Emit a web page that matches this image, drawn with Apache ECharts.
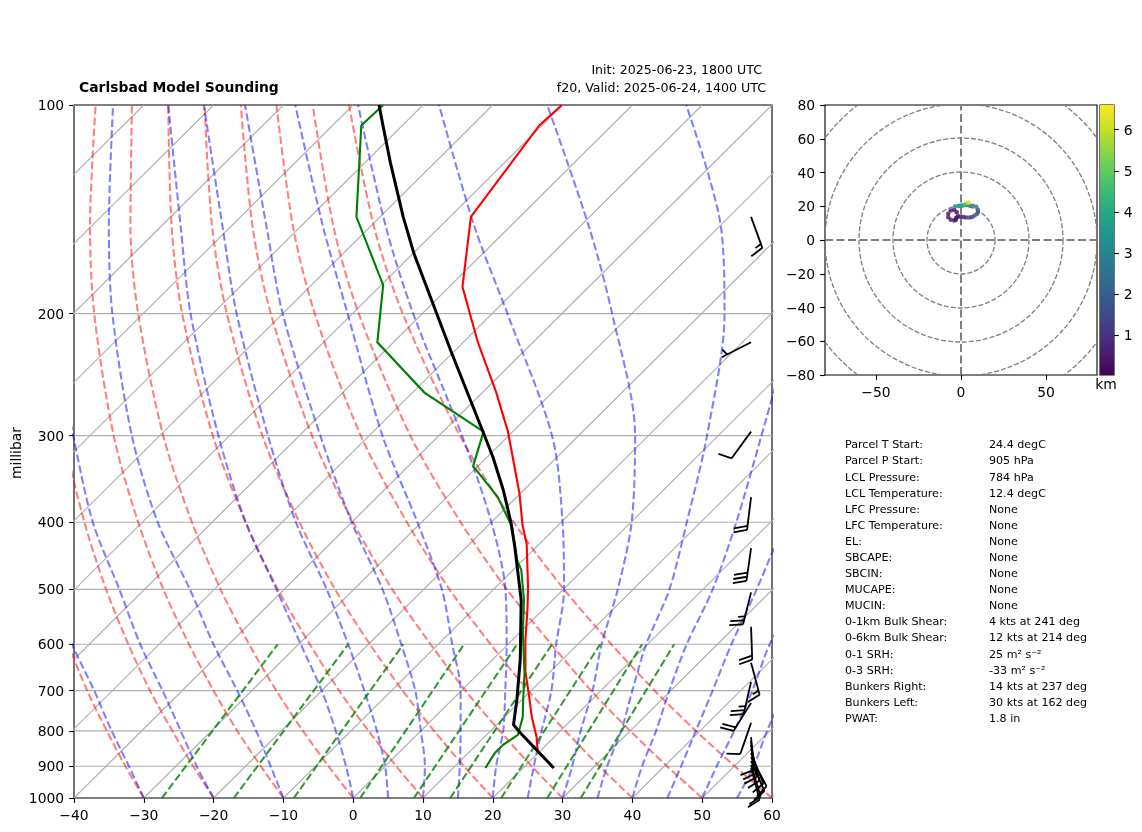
<!DOCTYPE html>
<html>
<head>
<meta charset="utf-8">
<script src="https://cdn.jsdelivr.net/npm/echarts@6/dist/echarts.min.js"></script>
<style>html,body{margin:0;padding:0;background:#fff}#c{width:1142px;height:832px}</style>
</head>
<body>
<div id="c"></div>
<script>
// ---- values ----
const pressureTicks = [100,200,300,400,500,600,700,800,900,1000];
const temperatureTicks = [-40,-30,-20,-10,0,10,20,30,40,50,60];
const isothermValues = [-140,-130,-120,-110,-100,-90,-80,-70,-60,-50,-40,-30,-20,-10,0,10,20,30,40,50,60];

const tempP = [853,817,764,710,658,592,535,496,430,404,363,296,260,220,183,145,107,100];
const tempT = [19.5,17.5,13.9,10.3,6.5,1.9,-2.2,-5.4,-11.8,-15.1,-20.2,-30.7,-38,-47.9,-58.1,-67,-70.4,-70.1];
const dewP = [905,861,838,811,764,722,660,578,518,469,454,406,368,332,296,260,220,182,145,107,100];
const dewT = [14.6,13.8,13.8,14.5,12.6,10.2,6.5,0.5,-4.1,-8.8,-10.8,-16.4,-22.7,-30.7,-34.2,-48.3,-62.3,-69.7,-83.4,-95.9,-95.7];
const parcelP = [905,803,784,722,632,518,434,400,359,322,294,228,164,145,121,107,100];
const parcelT = [24.4,14.3,12.4,9.3,4,-4.5,-13.1,-17.2,-23,-29.2,-34.7,-50.1,-69.8,-76.7,-86.4,-92.8,-96.3];

const curveLevels = [1000,900,800,700,600,500,400,300,200,150,100];
const dryAdiabats = [
 [-30,-37.2,-45,-53.6,-63,-73.7,-86,-100.8],
 [-20,-27.5,-35.6,-44.6,-54.4,-65.5,-78.3,-93.7,-113.3],
 [-10,-17.8,-26.3,-35.5,-45.7,-57.3,-70.6,-86.6,-107,-120.1,-136.9],
 [0,-8.1,-16.9,-26.5,-37.1,-49.1,-62.9,-79.5,-100.7,-114.3,-131.7],
 [10,1.6,-7.5,-17.5,-28.4,-40.9,-55.2,-72.4,-94.4,-108.4,-126.5],
 [20,11.3,1.9,-8.4,-19.8,-32.7,-47.5,-65.3,-88,-102.6,-121.3],
 [30,21,11.3,0.6,-11.1,-24.5,-39.8,-58.2,-81.7,-96.8,-116.1],
 [40,30.7,20.7,9.6,-2.5,-16.3,-32.1,-51.2,-75.4,-91,-111],
 [50,40.4,30,18.6,6.2,-8.1,-24.4,-44.1,-69.1,-85.2,-105.8],
 [60,50.1,39.4,27.7,14.8,0.1,-16.8,-37,-62.8,-79.4,-100.6]
];
const moistAdiabats = [
 [-30,-36.7,-44.3,-52.6,-62.5,-74],
 [-20,-27,-34.4,-42.8,-52.7,-63.6,-77.1,-92.4,-113.5],
 [-10,-16.4,-23.6,-32.1,-42.2,-53.5,-67.8,-84,-104.4,-117.4,-134.4],
 [0,-5.6,-12.2,-20,-29.7,-41.1,-55.2,-71.6,-93.2,-107.1,-126.5],
 [5,0,-6.3,-13.9,-22.9,-33.9,-48,-64.5,-86.6,-101.1,-121.4],
 [10,5.7,0,-6.6,-15.3,-25.9,-40,-57,-80,-94.8,-115.5],
 [15,10.7,5.7,-0.1,-8,-17.4,-30.6,-48.1,-70.7,-86.7,-108.3],
 [20,15.9,11.8,6.3,-0.2,-8.3,-20,-36.7,-61.3,-77.7,-99.3],
 [25,21.3,17.3,12.9,6.9,0.1,-9.8,-23.8,-47.8,-65,-87.7],
 [30,26.8,22.9,18.8,13.4,7.8,0.1,-11.9,-32.8,-48.6,-72.2],
 [35,31.8,28.7,24.5,19.8,15.2,8,-1.6,-16.7,-29.7,-52.3],
 [40,36.8,33.7,29.8,25.6,21.4,15.1,6.2,-6.5],
 [45,42.4,39.4,36,32,27.7,22],
 [50,47.5,44.9,41.7,37.5,34],
 [55,52.8,49.6,46.4]
];
const mixingLevels = [1000,600];
const mixingLines = [
 [-27.4,-33],[-17.1,-22.9],[-8.5,-15],[1,-6.3],[8.7,1.3],[13.9,6.3],[21.2,13.2],[27.8,19.2],[32.6,23.8]
];

const windP = [145,220,296,368,436,505,566,638,680,729,779,817,827,838,849,861,873,884,896,905];
const windSpeed = [15,5,10,20,30,25,20,15,25,20,10,10,10,10,10,10,10,10,10,10];
const windDir = [160,243,216,187,188,194,178,165,193,212,199,176,172,170,165,158,152,156,163,165];
const barbColumn = [57];

const hodoU = [-3,-2,-2.5,-4,-6,-7.5,-7.5,-6,-4,-3,-1.5,0,1.5,3,5,6.5,8,9.5,10,10,9,7,5,3.4,1,-1,-3.5,-1.5,0.5,2.5,4,4.5];
const hodoV = [12,14,16.5,18,17.5,15.5,13.5,12,11.5,13,14,14,13.6,13.4,13.4,13.6,14.5,15.5,16.6,18,19.7,20.3,20.5,20.7,20.5,20.3,20,20.2,20.5,21,22,22.3];
const hodoH = [0.05,0.1,0.15,0.2,0.25,0.3,0.35,0.4,0.45,0.5,0.55,0.65,0.8,0.95,1.1,1.3,1.5,1.7,1.9,2.1,2.3,2.5,2.7,2.9,3.1,3.3,3.5,3.8,4.1,4.6,5.5,6.5];
const hodoRings = [20,40,60,80,100];
const hodoYTicks = [-80,-60,-40,-20,0,20,40,60,80];
const hodoXTicks = [-50,0,50];
const colorbarTicks = [1,2,3,4,5,6];
const heightRange = [0.03,6.6];
const viridis = ['#440154','#482475','#414487','#355f8d','#2a788e','#21918c','#22a884','#44bf70','#7ad151','#bddf26','#fde725'];

const statNames = ['Parcel T Start:','Parcel P Start:','LCL Pressure:','LCL Temperature:','LFC Pressure:','LFC Temperature:','EL:','SBCAPE:','SBCIN:','MUCAPE:','MUCIN:','0-1km Bulk Shear:','0-6km Bulk Shear:','0-1 SRH:','0-3 SRH:','Bunkers Right:','Bunkers Left:','PWAT:'];
const statValues = ['24.4 degC','905 hPa','784 hPa','12.4 degC','None','None','None','None','None','None','None','4 kts at 241 deg','12 kts at 214 deg','25 m\u00b2 s\u207b\u00b2','-33 m\u00b2 s\u207b\u00b2','14 kts at 237 deg','30 kts at 162 deg','1.8 in'];
const chartTitle = 'Carlsbad Model Sounding';
const initText = 'Init: 2025-06-23, 1800 UTC';
const validText = 'f20, Valid: 2025-06-24, 1400 UTC';
const pressureName = 'millibar';

// ---- drawing ----
const FONT = '"DejaVu Sans"';
const skew = (t, p) => t + 100 * Math.log10(1000 / p);
const minus = v => String(v).replace('-', '\u2212');
const series = [];
function addCurve(name, ts, ps, color, width, dash, opacity, smooth, z) {
  series.push({
    name, type: 'line', xAxisIndex: 0, yAxisIndex: 0, silent: true, showSymbol: false, symbol: 'none',
    smooth: smooth ? 0.3 : false, z: z, animation: false,
    lineStyle: { color, width, type: dash ? [7.7, 3.3] : 'solid', opacity, cap: 'butt', join: 'miter' },
    data: ts.map((t, i) => [skew(t, ps[i]), ps[i]])
  });
}
isothermValues.forEach(t => addCurve('isotherm', [t, t], [1000, 100], '#b0b0b0', 1.1, false, 1, false, 2));
pressureTicks.forEach(p => {
  if (p > 100 && p < 1000) series.push({
    name: 'isobar', type: 'line', xAxisIndex: 0, yAxisIndex: 0, silent: true, showSymbol: false, z: 2,
    lineStyle: { color: '#b0b0b0', width: 1.1 }, data: [[-40, p], [60, p]]
  });
});
dryAdiabats.forEach(r => addCurve('dry', r, curveLevels, '#ff0000', 2.08, true, 0.5, true, 3));
moistAdiabats.forEach(r => addCurve('moist', r, curveLevels, '#0000ff', 2.08, true, 0.5, true, 3));
mixingLines.forEach(r => addCurve('mixing', r, mixingLevels, '#008000', 2.08, true, 0.8, false, 3));
addCurve('temperature', tempT, tempP, '#ff0000', 2.1, false, 1, false, 5);
addCurve('dewpoint', dewT, dewP, '#008000', 2.1, false, 1, false, 6);
addCurve('parcel', parcelT, parcelP, '#000000', 3, false, 1, false, 7);

// wind barbs
series.push({
  name: 'wind', type: 'custom', xAxisIndex: 0, yAxisIndex: 0, silent: true, clip: false, z: 8,
  data: windP.map((p, i) => [barbColumn[0], p, windSpeed[i], windDir[i]]),
  encode: { x: 0, y: 1 },
  renderItem(params, api) {
    const tip = api.coord([api.value(0), api.value(1)]);
    const spd = api.value(2), b = api.value(3) * Math.PI / 180;
    const L = 33, sp = L * 0.125, H = L * 0.4, W = L * 0.125;
    const u = [Math.sin(b), -Math.cos(b)], r = [Math.cos(b), Math.sin(b)];
    const at = s => [tip[0] + u[0] * s, tip[1] + u[1] * s];
    const style = { stroke: '#000', lineWidth: 1.8, fill: null };
    const kids = [{ type: 'polyline', shape: { points: [tip, at(L)] }, style }];
    let full = Math.floor(spd / 10), half = spd % 10 >= 5 ? 1 : 0;
    let s = L;
    if (full === 0 && half) s -= sp * 1.5;
    const feather = (h, w) => {
      const base = at(s);
      kids.push({ type: 'polyline', shape: { points: [base, [base[0] + r[0] * h + u[0] * w, base[1] + r[1] * h + u[1] * w]] }, style });
      s -= sp;
    };
    for (let i = 0; i < full; i++) feather(H, W);
    if (half) feather(H / 2, W / 2);
    return { type: 'group', children: kids };
  }
});

// hodograph
series.push({
  name: 'rings', type: 'custom', xAxisIndex: 1, yAxisIndex: 1, silent: true, clip: true, z: 2,
  data: hodoRings.map(r => [0, 0, r]),
  encode: { x: 0, y: 1 },
  renderItem(params, api) {
    const c = api.coord([0, 0]), rr = api.size([api.value(2), 0])[0];
    return { type: 'circle', shape: { cx: c[0], cy: c[1], r: rr }, style: { stroke: '#7f7f7f', fill: null, lineWidth: 1.3, lineDash: [5, 2] } };
  }
});
[[[-80, 0], [80, 0]], [[0, -80], [0, 80]]].forEach(d => series.push({
  name: 'cross', type: 'line', xAxisIndex: 1, yAxisIndex: 1, silent: true, showSymbol: false, z: 3,
  lineStyle: { color: '#7f7f7f', width: 2, type: [8, 3.5] }, data: d
}));
const hodoIndex = series.length;
series.push({
  name: 'hodograph', type: 'scatter', xAxisIndex: 1, yAxisIndex: 1, silent: true, symbolSize: 4.5, z: 5,
  data: hodoU.map((u, i) => [u, hodoV[i], hodoH[i]]), encode: { x: 0, y: 1 }
});
// colour bar
series.push({
  name: 'colorbar', type: 'custom', xAxisIndex: 2, yAxisIndex: 2, silent: true, clip: true, z: 2,
  data: [[0, heightRange[0], 1, heightRange[1]]], encode: { x: 0, y: 1 },
  renderItem(params, api) {
    const a = api.coord([0, api.value(1)]), b = api.coord([1, api.value(3)]);
    return {
      type: 'rect', shape: { x: a[0], y: b[1], width: b[0] - a[0], height: a[1] - b[1] },
      style: { fill: new echarts.graphic.LinearGradient(0, 1, 0, 0, viridis.map((c, i) => ({ offset: i / (viridis.length - 1), color: c }))) }
    };
  }
});

const axisBase = {
  axisLine: { show: false, onZero: false },
  axisTick: { show: true, length: 4.9, inside: false, lineStyle: { color: '#000', width: 1.1 } },
  splitLine: { show: false },
  axisLabel: { color: '#000', fontFamily: FONT, fontSize: 13.9, margin: 9.8, formatter: minus }
};
const tickAxis = (extra, ticks, labelExtra) => Object.assign({}, axisBase, extra, {
  axisTick: Object.assign({}, axisBase.axisTick, { customValues: ticks }),
  axisLabel: Object.assign({}, axisBase.axisLabel, { customValues: ticks }, labelExtra || {})
});
const yLabel = {
  formatter: v => '{v|' + minus(v) + '}',
  rich: { v: { fontFamily: FONT, fontSize: 13.9, color: '#000', padding: [3, 0, 0, 0] } }
};
const xLabel = { margin: 11.5 };

const graphic = [
  { type: 'text', x: 79, y: 88, style: { text: chartTitle, font: 'bold 13.9px ' + FONT, fill: '#000', textAlign: 'left', textVerticalAlign: 'middle' } },
  { type: 'text', x: 762, y: 71, style: { text: initText, font: '12.6px ' + FONT, fill: '#000', textAlign: 'right', textVerticalAlign: 'middle' } },
  { type: 'text', x: 766, y: 89, style: { text: validText, font: '12.6px ' + FONT, fill: '#000', textAlign: 'right', textVerticalAlign: 'middle' } },
  { type: 'text', x: 1106, y: 385, style: { text: 'km', font: '13.9px ' + FONT, fill: '#000', textAlign: 'center', textVerticalAlign: 'middle' } },
  { type: 'text', x: 17, y: 453, rotation: Math.PI / 2, style: { text: pressureName, font: '13.9px ' + FONT, fill: '#000', textAlign: 'center', textVerticalAlign: 'middle' } }
];
statNames.forEach((t, i) => {
  const y = 445.5 + 16.09 * i;
  graphic.push({ type: 'text', x: 845, y, style: { text: t, font: '11.1px ' + FONT, fill: '#000', textVerticalAlign: 'middle' } });
  graphic.push({ type: 'text', x: 989, y, style: { text: statValues[i], font: '11.1px ' + FONT, fill: '#000', textVerticalAlign: 'middle' } });
});

const gridBase = { show: true, borderColor: '#000', borderWidth: 1.1, backgroundColor: 'transparent', outerBoundsMode: 'none', containLabel: false };
const chart = echarts.init(document.getElementById('c'), null, { renderer: 'canvas' });
chart.setOption({
  animation: false,
  backgroundColor: '#fff',
  grid: [
    Object.assign({ left: 74, top: 105, width: 698, height: 693 }, gridBase),
    Object.assign({ left: 825, top: 105, width: 272, height: 270 }, gridBase),
    Object.assign({ left: 1100, top: 105, width: 14, height: 270 }, gridBase)
  ],
  xAxis: [
    tickAxis({ gridIndex: 0, type: 'value', min: -40, max: 60 }, temperatureTicks, xLabel),
    tickAxis({ gridIndex: 1, type: 'value', min: -80, max: 80 }, hodoXTicks, xLabel),
    { gridIndex: 2, type: 'value', min: 0, max: 1, show: false }
  ],
  yAxis: [
    tickAxis({ gridIndex: 0, type: 'log', logBase: 10, min: 100, max: 1000, inverse: true }, pressureTicks, yLabel),
    tickAxis({ gridIndex: 1, type: 'value', min: -80, max: 80 }, hodoYTicks, yLabel),
    tickAxis({ gridIndex: 2, type: 'value', position: 'right', min: heightRange[0], max: heightRange[1] }, colorbarTicks, yLabel)
  ],
  visualMap: { show: false, type: 'continuous', seriesIndex: hodoIndex, dimension: 2, min: heightRange[0], max: heightRange[1], inRange: { color: viridis } },
  series, graphic
});
</script>
</body>
</html>
